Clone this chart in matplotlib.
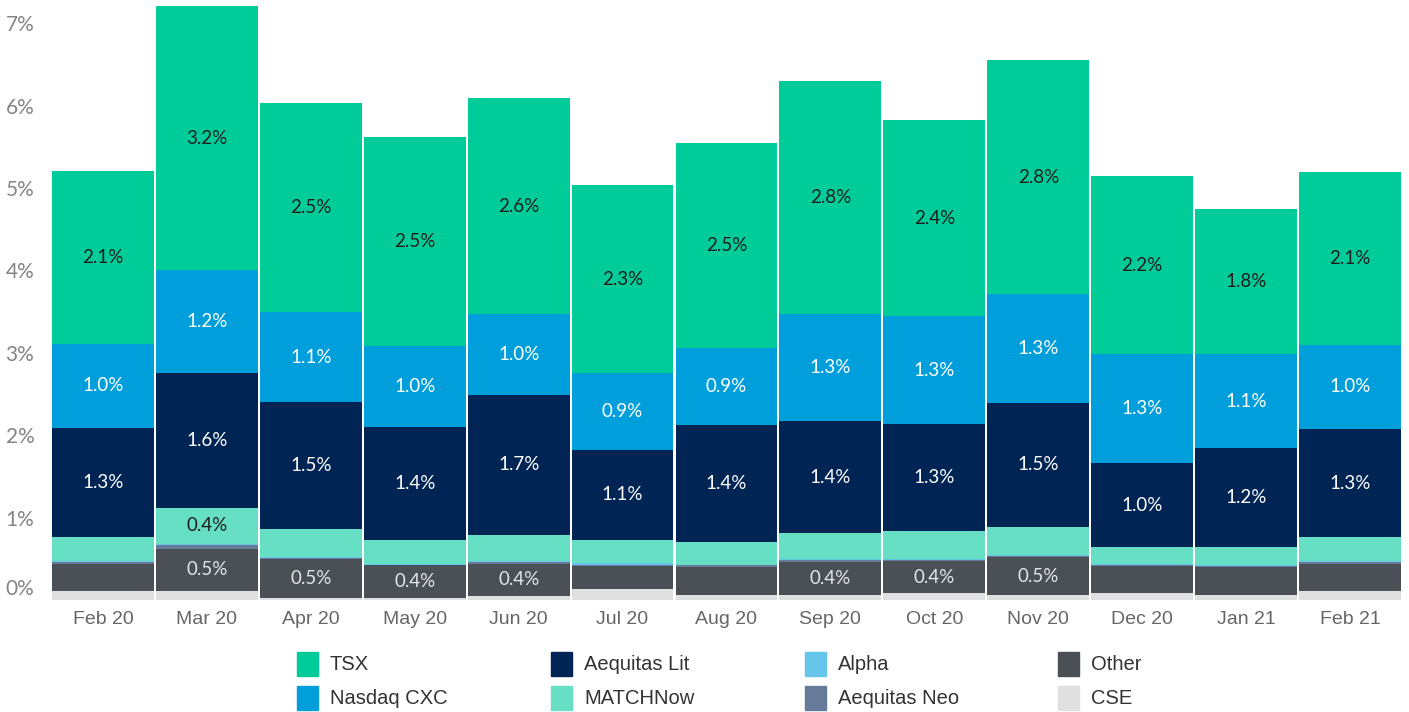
from matplotlib import pyplot as plt
from matplotlib.patches import Rectangle
from matplotlib.transforms import ScaledTranslation
import numpy as np

#==============================================================================
# data (percent of volume), stacked from bottom to top
months = ['Feb 20', 'Mar 20', 'Apr 20', 'May 20', 'Jun 20', 'Jul 20', 'Aug 20',
          'Sep 20', 'Oct 20', 'Nov 20', 'Dec 20', 'Jan 21', 'Feb 21']
cse = [0.11, 0.11, 0.02, 0.03, 0.05, 0.13, 0.06, 0.06, 0.08, 0.06, 0.08, 0.06, 0.11]
other = [0.33, 0.51, 0.48, 0.39, 0.39, 0.28, 0.34, 0.40, 0.39, 0.46, 0.33, 0.34, 0.33]
aeqNeo = [0.02, 0.05, 0.01, 0.01, 0.02, 0.02, 0.02, 0.02, 0.02, 0.02, 0.02, 0.01, 0.02]
alpha = [0.01, 0.01, 0.01, 0.01, 0.01, 0.02, 0.01, 0.02, 0.01, 0.01, 0.01, 0.02, 0.01]
matchNow = [0.30, 0.44, 0.34, 0.29, 0.32, 0.28, 0.28, 0.31, 0.34, 0.34, 0.20, 0.21, 0.29]
aeqLit = [1.32, 1.64, 1.54, 1.37, 1.70, 1.09, 1.41, 1.36, 1.29, 1.50, 1.02, 1.20, 1.32]
nasdaqCXC = [1.02, 1.24, 1.09, 0.98, 0.98, 0.93, 0.94, 1.30, 1.32, 1.32, 1.32, 1.14, 1.02]
tsx = [2.10, 3.21, 2.54, 2.54, 2.62, 2.29, 2.49, 2.83, 2.37, 2.84, 2.16, 1.77, 2.10]
yTicks = [0, 1, 2, 3, 4, 5, 6, 7]

# (name, values, colour, label colour or None)
series = [
    ('CSE', cse, '#dfe0df', None),
    ('Other', other, '#4a5056', '#e4e6e8'),
    ('Aequitas Neo', aeqNeo, '#667b99', None),
    ('Alpha', alpha, '#66c6ea', None),
    ('MATCHNow', matchNow, '#66dfc4', '#1e1e1e'),
    ('Aequitas Lit', aeqLit, '#002454', 'white'),
    ('Nasdaq CXC', nasdaqCXC, '#009fdb', 'white'),
    ('TSX', tsx, '#00cc99', '#1e1e1e'),
]
legendOrder = ['TSX', 'Nasdaq CXC', 'Aequitas Lit', 'MATCHNow',
               'Alpha', 'Aequitas Neo', 'Other', 'CSE']

#==============================================================================
fig = plt.figure(figsize=(14.09, 7.12), dpi=100)
ax = fig.add_axes([0.0362, 0.1573, 0.9588, 0.839])

x = np.arange(len(months))
bottom = np.zeros(len(months))
for name, vals, col, txtCol in series:
    vals = np.array(vals)
    ax.bar(x, vals, width=0.98, bottom=bottom, color=col, linewidth=0)
    if txtCol is not None:
        for i, v in enumerate(vals):
            if v >= 0.36:
                ax.text(x[i], bottom[i] + v / 2, '%.1f%%' % v, ha='center', va='center',
                        fontsize=13.5, color=txtCol, family=['Lato', 'DejaVu Sans'])
    bottom += vals

ax.set_xlim(-0.5, len(months) - 0.5)
ax.set_ylim(0, 7.25)
ax.set_xticks(x)
ax.set_xticklabels(months, fontsize=14, color='#666666', family='Liberation Sans')
ax.set_yticks(yTicks)
ax.set_yticklabels(['%d%%' % t for t in yTicks], fontsize=15, color='#858585',
                   family=['Lato', 'DejaVu Sans'])
ax.tick_params(axis='x', length=0, pad=8)
ax.tick_params(axis='y', length=0, pad=12)
# the 0% label sits a little above the baseline
zeroLbl = ax.get_yticklabels()[0]
zeroLbl.set_transform(zeroLbl.get_transform() + ScaledTranslation(0, 0.13, fig.dpi_scale_trans))
for s in ax.spines.values():
    s.set_visible(False)

#==============================================================================
# legend, 4 columns x 2 rows
colours = {name: col for name, vals, col, txtCol in series}
W, H = 1409.0, 712.0
colX = [297, 551, 805, 1058]
rowY = [664, 698]
for k, name in enumerate(legendOrder):
    cx = colX[k // 2]
    cy = rowY[k % 2]
    fig.patches.append(Rectangle((cx / W, (H - cy - 12) / H), 21 / W, 24 / H,
                                 transform=fig.transFigure, color=colours[name]))
    fig.text((cx + 33) / W, (H - cy) / H, name, ha='left', va='center',
             fontsize=14.5, color='#333333', family='Liberation Sans')

plt.savefig('out.png', dpi=100)
